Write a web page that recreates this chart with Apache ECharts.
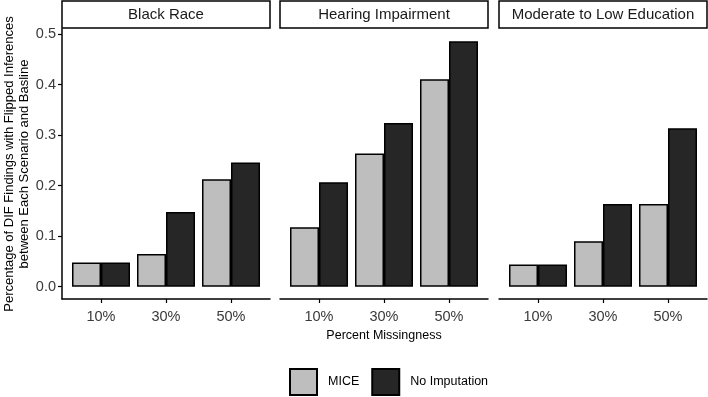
<!DOCTYPE html>
<html><head><meta charset="utf-8">
<script src="https://cdn.jsdelivr.net/npm/echarts@6/dist/echarts.min.js"></script>
<style>html,body{margin:0;padding:0;background:#fff}#c{width:708px;height:397px}</style>
</head><body><div id="c"></div>
<script>
const panels = ['Black Race', 'Hearing Impairment', 'Moderate to Low Education'];
const categories = ['10%', '30%', '50%'];
const miceValues = [
  [0.048, 0.065, 0.213],
  [0.118, 0.264, 0.411],
  [0.044, 0.090, 0.164]
];
const noImpValues = [
  [0.048, 0.148, 0.246],
  [0.207, 0.324, 0.486],
  [0.044, 0.164, 0.314]
];
const yTicks = [0, 0.1, 0.2, 0.3, 0.4, 0.5];
const seriesNames = ['MICE', 'No Imputation'];

const FONT = '"Liberation Sans", Arial, sans-serif';
const lefts = [62, 280, 499];
const W = 208, TOP = 29, H = 270;
const grids = [], xAxes = [], yAxes = [], series = [], graphics = [];
panels.forEach((p, i) => {
  grids.push({left: lefts[i], top: TOP, width: W, height: H});
  xAxes.push({
    type: 'value', gridIndex: i, min: 0.4, max: 3.6,
    axisLine: {show: true, onZero: false, lineStyle: {color: '#000', width: 1.5}},
    axisTick: {show: true, customValues: [1, 2, 3], length: 4, lineStyle: {color: '#000', width: 1.2}},
    axisLabel: {customValues: [1, 2, 3], formatter: v => categories[Math.round(v) - 1] || '',
      color: '#3a3a3a', fontSize: 14.5, fontFamily: FONT, margin: 10},
    splitLine: {show: false},
    name: i === 1 ? 'Percent Missingness' : '', nameLocation: 'middle', nameGap: 29,
    nameTextStyle: {color: '#000', fontSize: 12.5, fontFamily: FONT}
  });
  yAxes.push({
    type: 'value', gridIndex: i, min: -0.0243, max: 0.5103,
    show: i === 0,
    axisLine: {show: true, lineStyle: {color: '#000', width: 1.5}},
    axisTick: {show: true, customValues: yTicks, length: 4, lineStyle: {color: '#000', width: 1.2}},
    axisLabel: {customValues: yTicks, formatter: v => v.toFixed(1), color: '#3a3a3a',
      fontSize: 14.5, fontFamily: FONT, margin: 6},
    splitLine: {show: false},
    name: i === 0 ? 'Percentage of DIF Findings with Flipped Inferences\nbetween Each Scenario and Basline' : '',
    nameLocation: 'middle', nameRotate: 90, nameGap: 30,
    nameTextStyle: {color: '#000', fontSize: 13, fontFamily: FONT, lineHeight: 15}
  });
  [miceValues, noImpValues].forEach((vals, s) => {
    series.push({
      type: 'bar', name: seriesNames[s], xAxisIndex: i, yAxisIndex: i,
      data: categories.map((c, k) => [k + 1, vals[i][k]]),
      barWidth: 29, barGap: '0%',
      itemStyle: {color: s === 0 ? '#bebebe' : '#262626', borderColor: '#000', borderWidth: 1.5},
      emphasis: {disabled: true}, animation: false
    });
  });
  graphics.push({
    type: 'rect', shape: {x: lefts[i], y: 1, width: W, height: 27},
    style: {fill: '#fff', stroke: '#000', lineWidth: 1.5}
  });
  graphics.push({
    type: 'text', x: lefts[i] + W / 2, y: 15,
    style: {text: p, fill: '#1a1a1a', font: '15px ' + FONT, align: 'center', verticalAlign: 'middle'}
  });
});

const chart = echarts.init(document.getElementById('c'), null, {renderer: 'canvas'});
chart.setOption({
  animation: false,
  grid: grids, xAxis: xAxes, yAxis: yAxes, series: series, graphic: graphics,
  legend: {
    data: seriesNames, left: 289, top: 368, padding: 0, itemWidth: 27, itemHeight: 26, itemGap: 12,
    icon: 'rect', selectedMode: false,
    textStyle: {fontSize: 12.5, fontFamily: FONT, color: '#000', padding: [0, 0, 0, 6]}
  }
});
</script></body></html>
